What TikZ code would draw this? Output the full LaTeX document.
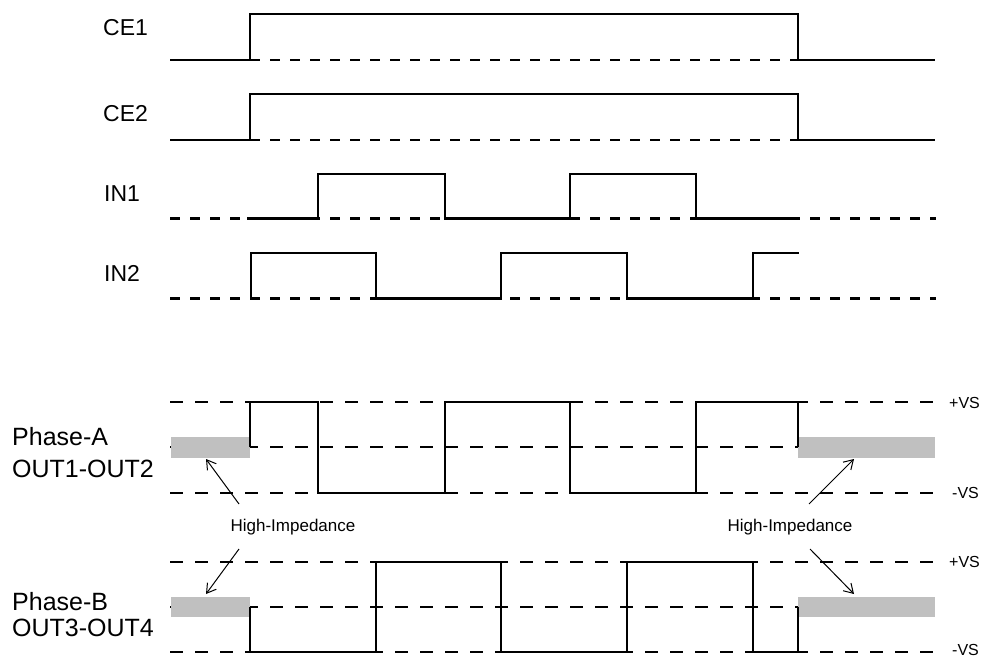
\documentclass[tikz,border=0pt]{standalone}
\usepackage{fontspec}
\setmainfont{Liberation Sans}
\usetikzlibrary{arrows.meta}
\definecolor{hiz}{HTML}{C0C0C0}
\tikzset{
  sigline/.style={line width=2.8pt, line join=miter},
  sigdash/.style={line width=2.8pt, dash pattern=on 10pt off 10pt},
  outline/.style={line width=2.3pt, line join=miter},
  outdash/.style={line width=2pt, dash pattern=on 13pt off 12pt},
  hizbox/.style={fill=hiz, draw=none},
  bigtxt/.style={inner sep=0pt, anchor=base west, font=\fontsize{23}{28}\selectfont},
  phtxt/.style={inner sep=0pt, anchor=base west, font=\fontsize{25}{30}\selectfont},
  smtxt/.style={inner sep=0pt, anchor=base west, font=\fontsize{16}{19}\selectfont},
  hitxt/.style={inner sep=0pt, anchor=base, font=\fontsize{17}{20}\selectfont},
  hiarrow/.style={line width=1pt, -{Straight Barb[length=9pt,width=11pt]}}
}
\begin{document}
\begin{tikzpicture}[x=1pt,y=-1pt]
\useasboundingbox (0,0) rectangle (981,658);

% labels
\node[bigtxt] (ce1) at (103,36) {CE1};
\node[bigtxt] (ce2) at (103,121.5) {CE2};
\node[bigtxt] (in1) at (104,201.5) {IN1};
\node[bigtxt] (in2) at (104,281.5) {IN2};
\node[phtxt] (pha) at (12,445) {Phase-A};
\node[phtxt] (oa) at (12,477) {OUT1-OUT2};
\node[phtxt] (phb) at (12,610) {Phase-B};
\node[phtxt] (ob) at (12,636) {OUT3-OUT4};
\node[smtxt] (vpa) at (949,408) {+VS};
\node[smtxt] (vma) at (952,498.5) {-VS};
\node[smtxt] (vpb) at (949,567) {+VS};
\node[smtxt] (vmb) at (952,655.5) {-VS};
\node[hitxt] (hil) at (293,531.5) {High-Impedance};
\node[hitxt] (hir) at (790,531.5) {High-Impedance};

% CE1
\draw[sigdash] (250,60) -- (798,60);
\draw[sigline] (170,60) -- (250,60) -- (250,14) -- (798,14) -- (798,60) -- (935,60);
% CE2
\draw[sigdash] (250,140) -- (798,140);
\draw[sigline] (170,140) -- (250,140) -- (250,94) -- (798,94) -- (798,140) -- (935,140);
% IN1
\draw[sigdash] (170,218.5) -- (936,218.5);
\draw[sigline] (247,218.5) -- (318,218.5) -- (318,174) -- (445,174) -- (445,218.5) -- (570,218.5) -- (570,174) -- (696,174) -- (696,218.5) -- (799,218.5);
% IN2
\draw[sigdash] (170,298.5) -- (936,298.5);
\draw[sigline] (251,298.5) -- (251,253) -- (376,253) -- (376,298.5) -- (501,298.5) -- (501,253) -- (627,253) -- (627,298.5) -- (753,298.5) -- (753,253) -- (799,253);

% Phase A
\foreach \yy in {402,447,493} \draw[outdash] (170,\yy) -- (936,\yy);
\fill[hizbox] (171,437) rectangle (250,458);
\fill[hizbox] (798,437) rectangle (935,458);
\draw[outline] (250,447) -- (250,402) -- (318,402) -- (318,493) -- (445,493) -- (445,402) -- (570,402) -- (570,493) -- (696,493) -- (696,402) -- (798,402) -- (798,447);

% Phase B
\foreach \yy in {562,607,652} \draw[outdash] (170,\yy) -- (936,\yy);
\fill[hizbox] (171,597) rectangle (250,617);
\fill[hizbox] (798,597) rectangle (935,617);
\draw[outline] (250,607) -- (250,652) -- (376,652) -- (376,562) -- (501,562) -- (501,652) -- (627,652) -- (627,562) -- (753,562) -- (753,652) -- (798,652) -- (798,607);

% arrows
\coordinate (al0) at (239,504); \coordinate (al1) at (206,459);
\coordinate (ar0) at (809,504); \coordinate (ar1) at (854,459);
\coordinate (bl0) at (239,549); \coordinate (bl1) at (206,594);
\coordinate (br0) at (810,549); \coordinate (br1) at (854,594);
\draw[hiarrow] (al0) -- (al1);
\draw[hiarrow] (ar0) -- (ar1);
\draw[hiarrow] (bl0) -- (bl1);
\draw[hiarrow] (br0) -- (br1);
\end{tikzpicture}
\end{document}
